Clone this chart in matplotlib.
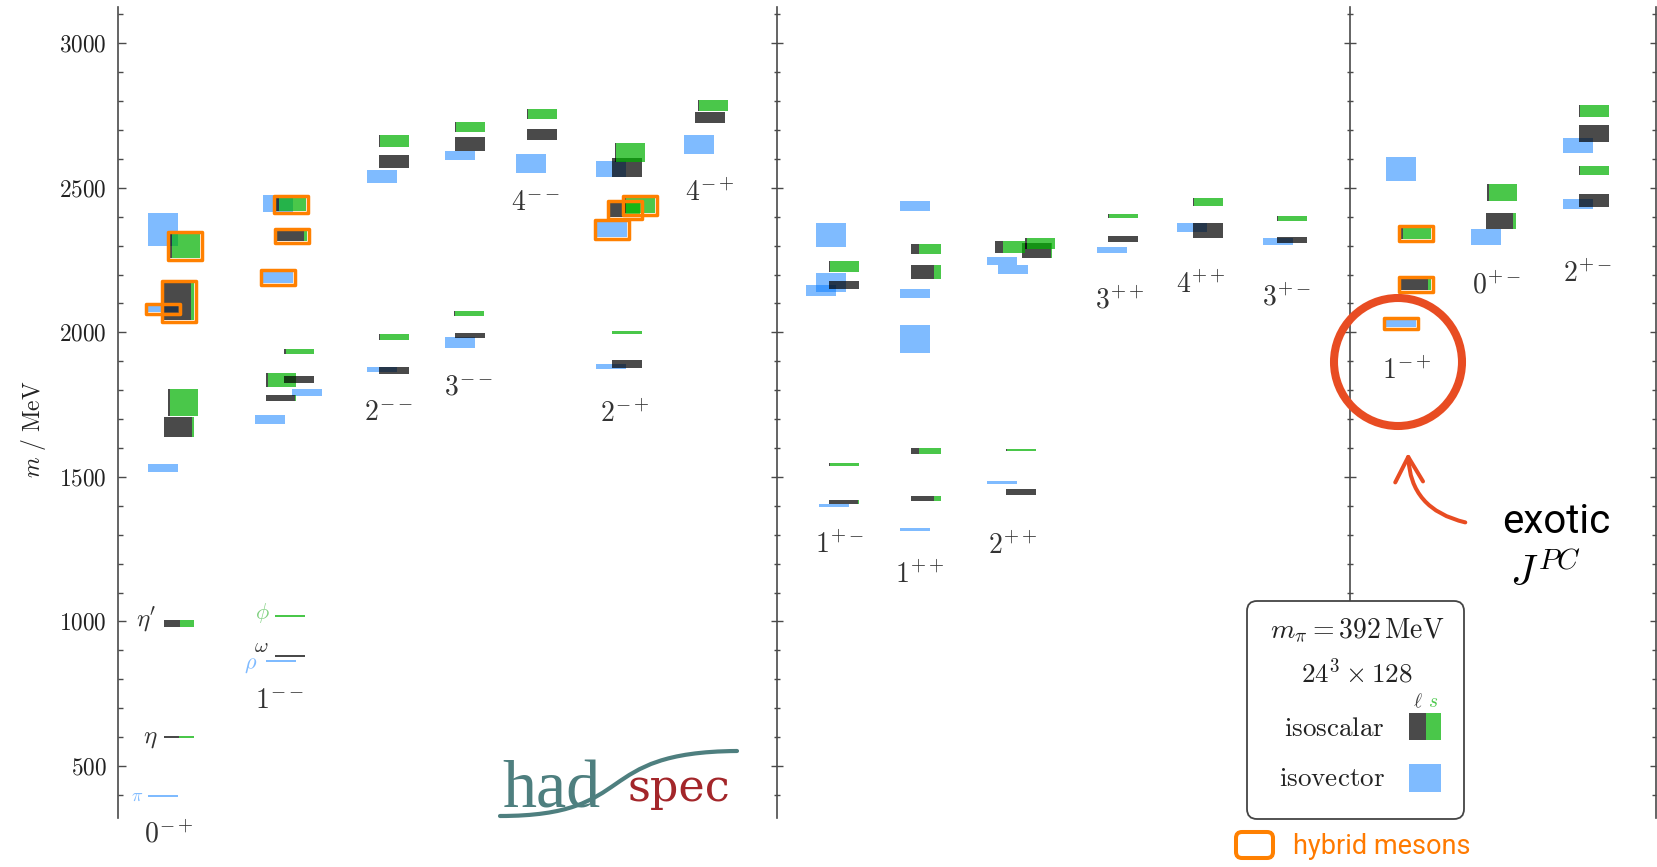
import matplotlib
matplotlib.use("Agg")
import matplotlib.pyplot as plt
import matplotlib.transforms as mtransforms
from matplotlib.patches import Rectangle, FancyBboxPatch, Circle, FancyArrowPatch, PathPatch
from matplotlib.path import Path
from matplotlib.ticker import MultipleLocator, FuncFormatter

plt.rcParams['mathtext.fontset'] = 'cm'
plt.rcParams['font.family'] = ['DejaVu Serif']

# -----------------------------
# Spectrum (MeV), m_pi = 392 MeV
# -----------------------------
jpc = ['0^{-+}', '1^{--}', '2^{--}', '3^{--}', '4^{--}', '2^{-+}', '4^{-+}',
       '1^{+-}', '1^{++}', '2^{++}', '3^{++}', '4^{++}', '3^{+-}',
       '1^{-+}', '0^{+-}', '2^{+-}']

# isovector states: mass, half-width of the band, hybrid flag
iv_mass = [395, 1531, 2082, 2355,            # 0-+
           864, 1698, 1792, 2191, 2445,      # 1--
           1871, 2538,                       # 2--
           1965, 2611,                       # 3--
           2584,                             # 4--
           1881, 2357, 2565,                 # 2-+
           2649,                             # 4-+
           1401, 2145, 2172, 2336,           # 1+-
           1318, 1976, 2134, 2436,           # 1++
           1481, 2218, 2246,                 # 2++
           2285,                             # 3++
           2362,                             # 4++
           2314,                             # 3+-
           2032, 2564,                       # 1-+
           2330,                             # 0+-
           2443, 2646]                       # 2+-
iv_err = [3, 14, 12, 57,
          3, 16, 12, 21, 29,
          8, 22,
          19, 16,
          33,
          8, 28, 28,
          33,
          5, 19, 33, 41,
          5, 48, 16, 17,
          5, 15, 14,
          10,
          15,
          12,
          14, 41,
          28,
          17, 26]
iv_hybrid = [0, 0, 1, 0,
             0, 0, 0, 1, 0,
             0, 0,
             0, 0,
             0,
             0, 1, 0,
             0,
             0, 0, 0, 0,
             0, 0, 0, 0,
             0, 0, 0,
             0,
             0,
             0,
             1, 0,
             0,
             0, 0]

# isoscalar states: mass, half-width, light-quark (l) fraction, hybrid flag
is_mass = [600, 993, 1672, 1757, 2108, 2300,            # 0-+
           881, 1019, 1772, 1835, 1837, 1933, 2335, 2443,  # 1--
           1868, 1984, 2591, 2662,                      # 2--
           1989, 2065, 2651, 2710,                      # 3--
           2685, 2755,                                  # 4--
           1890, 1999, 2424, 2440, 2570, 2622,          # 2-+
           2742, 2784,                                  # 4-+
           1413, 1543, 2164, 2227,                      # 1+-
           1425, 1590, 2208, 2288,                      # 1++
           1448, 1593, 2283, 2295, 2307,                # 2++
           2322, 2403,                                  # 3++
           2352, 2450,                                  # 4++
           2319, 2394,                                  # 3+-
           2167, 2343,                                  # 1-+
           2385, 2483,                                  # 0+-
           2455, 2560, 2688, 2766]                      # 2+-
is_err = [3, 12, 35, 46, 66, 43,
          3, 3, 10, 24, 12, 8, 19, 24,
          12, 10, 22, 21,
          9, 9, 24, 17,
          20, 17,
          13, 5, 26, 28, 33, 33,
          19, 19,
          7, 4, 14, 19,
          9, 10, 24, 17,
          10, 3, 26, 21, 19,
          10, 8,
          26, 14,
          10, 8,
          21, 21,
          28, 29,
          22, 16, 29, 22]
is_light = [0.5, 0.52, 0.93, 0.06, 0.9, 0.08,
            1.0, 0.0, 0.95, 0.05, 0.97, 0.05, 0.88, 0.1,
            0.97, 0.03, 0.97, 0.03,
            0.97, 0.03, 0.97, 0.03,
            0.97, 0.03,
            0.97, 0.0, 0.45, 0.03, 0.97, 0.03,
            0.97, 0.03,
            0.95, 0.03, 0.97, 0.03,
            0.75, 0.25, 0.75, 0.25,
            0.97, 0.03, 0.95, 0.25, 0.05,
            0.97, 0.03,
            0.97, 0.03,
            0.97, 0.03,
            0.9, 0.08,
            0.88, 0.05,
            0.97, 0.03, 0.97, 0.03]
is_hybrid = [0, 0, 0, 0, 1, 1,
             0, 0, 0, 0, 0, 0, 1, 1,
             0, 0, 0, 0,
             0, 0, 0, 0,
             0, 0,
             0, 0, 1, 1, 0, 0,
             0, 0,
             0, 0, 0, 0,
             0, 0, 0, 0,
             0, 0, 0, 0, 0,
             0, 0,
             0, 0,
             0, 0,
             1, 1,
             0, 0,
             0, 0, 0, 0]

# -----------------------------
# Layout (horizontal placement in pixels of the canvas)
# -----------------------------
W, H = 1658, 867
iv_left = [148, 148, 148, 148,
           266, 255, 292, 263, 263,
           367, 367,
           445, 445,
           516,
           596, 597, 596,
           684,
           819, 806, 816, 816,
           900, 900, 900, 900,
           987, 998, 987,
           1097,
           1177,
           1263,
           1386, 1386,
           1471,
           1563, 1563]
is_left = [164, 164, 164, 168, 164, 170,
           275, 275, 266, 266, 284, 284, 277, 276,
           379, 379, 379, 379,
           455, 454, 455, 455,
           527, 527,
           612, 612, 610, 625, 612, 615,
           695, 698,
           829, 829, 829, 829,
           911, 911, 911, 911,
           1006, 1006, 1022, 995, 1025,
           1108, 1108,
           1193, 1193,
           1277, 1277,
           1401, 1401,
           1486, 1487,
           1579, 1579, 1579, 1579]
label_xy = [(169, 835), (280, 700), (389, 412), (469, 387), (536, 203),
            (625, 414), (710, 193), (840, 545), (920, 575), (1013, 546),
            (1120, 301), (1201, 285), (1287, 298), (1407, 371), (1497, 286),
            (1588, 274)]
bw = 30.5

c_iv = (0.0, 0.47, 1.0)
c_l = (0.0, 0.0, 0.0)
c_s = (0.0, 0.69, 0.0)
a_iv, a_is = 0.5, 0.71
c_hyb = '#FF8000'
axc = '#4a4a4a'

fig = plt.figure(figsize=(W / 100, H / 100), dpi=100)
# canvas pixels, origin top-left
pix = mtransforms.Affine2D().scale(1 / 100, -1 / 100).translate(0, H / 100) + fig.dpi_scale_trans

x0p, x1p, y0p, y1p = 118, 1656, 7, 818
ax = fig.add_axes([x0p / W, 1 - y1p / H, (x1p - x0p) / W, (y1p - y0p) / H])
ax.set_xlim(x0p, x1p)
ax.set_ylim(320, 3125.6)
ppm = (y1p - y0p) / (3125.6 - 320)   # pixels per MeV

for s in ['top', 'right', 'bottom']:
    ax.spines[s].set_visible(False)
ax.spines['left'].set_color(axc)
ax.spines['left'].set_linewidth(1.2)
ax.set_xticks([])
ax.yaxis.set_major_locator(MultipleLocator(500))
ax.yaxis.set_minor_locator(MultipleLocator(100))
ax.yaxis.set_major_formatter(FuncFormatter(lambda v, p: r'$%d$' % v))
ax.tick_params(axis='y', which='both', direction='in', color=axc, width=1.0,
               labelsize=16.8, labelcolor='#222222', pad=8)
ax.tick_params(axis='y', which='major', length=5.8)
ax.tick_params(axis='y', which='minor', length=3.6)

# panel dividers with their own ticks
for xp, d in [(777, 'inout'), (1350, 'inout'), (1656, 'in')]:
    sec = ax.secondary_yaxis((xp - x0p) / (x1p - x0p))
    sec.yaxis.set_major_locator(MultipleLocator(500))
    sec.yaxis.set_minor_locator(MultipleLocator(100))
    sec.tick_params(which='both', direction=d, color=axc, width=1.0,
                    labelleft=False, labelright=False)
    sec.tick_params(which='major', length=8.6 if d == 'inout' else 4.5)
    sec.tick_params(which='minor', length=5.0 if d == 'inout' else 3.0)
    for sp in sec.spines.values():
        sp.set_color(axc)
        sp.set_linewidth(1.2)

# isovector bands
for m, e, x in zip(iv_mass, iv_err, iv_left):
    ax.add_patch(Rectangle((x, m - e), bw, 2 * e, fc=c_iv, alpha=a_iv, lw=0, zorder=2))

# isoscalar bands split into light / strange content
for m, e, f, x in zip(is_mass, is_err, is_light, is_left):
    if f > 0:
        ax.add_patch(Rectangle((x, m - e), f * bw, 2 * e, fc=c_l, alpha=a_is, lw=0, zorder=3))
    if f < 1:
        ax.add_patch(Rectangle((x + f * bw, m - e), (1 - f) * bw, 2 * e, fc=c_s,
                               alpha=a_is, lw=0, zorder=3))

# hybrid outlines
padx, pady = 1.5, 1.5 / ppm
for mass, err, hyb, left in [(iv_mass, iv_err, iv_hybrid, iv_left),
                             (is_mass, is_err, is_hybrid, is_left)]:
    for m, e, h, x in zip(mass, err, hyb, left):
        if h:
            ax.add_patch(Rectangle((x - padx, m - e - pady), bw + 2 * padx, 2 * e + 2 * pady,
                                   fill=False, ec=c_hyb, lw=2.5, joinstyle='round', zorder=5))

# J^PC labels
for lab, (x, y) in zip(jpc, label_xy):
    fig.text(x, y, '$' + lab + '$', transform=pix, ha='center', va='center',
             fontsize=20, color='#333333')

# ground-state names
fig.text(137, 796, r'$\pi$', transform=pix, ha='center', va='center', fontsize=13, color='#80BBFF')
fig.text(146, 620, r"$\eta'$", transform=pix, ha='center', va='center', fontsize=18, color='#333333')
fig.text(150, 738, r'$\eta$', transform=pix, ha='center', va='center', fontsize=18, color='#333333')
fig.text(262, 613, r'$\phi$', transform=pix, ha='center', va='center', fontsize=16, color='#80D080')
fig.text(261, 646, r'$\omega$', transform=pix, ha='center', va='center', fontsize=15, color='#333333')
fig.text(251, 664, r'$\rho$', transform=pix, ha='center', va='center', fontsize=16, color='#80BBFF')

fig.text(33, 429, r'$m\ /\ \mathrm{MeV}$', transform=pix, rotation=90, ha='center',
         va='center', fontsize=17, color='#222222')

# info box
fig.add_artist(FancyBboxPatch((1247, 601), 217, 218, boxstyle='round,pad=0,rounding_size=10',
                              transform=pix, fc='white', ec='#444444', lw=1.3, zorder=6))
fig.text(1357, 630, r'$m_\pi = 392\,\mathrm{MeV}$', transform=pix, ha='center', va='center',
         fontsize=20, color='#222222', zorder=7)
fig.text(1357, 673, r'$24^3 \times 128$', transform=pix, ha='center', va='center',
         fontsize=19.5, color='#222222', zorder=7)
fig.text(1385, 729, r'$\mathrm{isoscalar}$', transform=pix, ha='right', va='center',
         fontsize=19.5, color='#222222', zorder=7)
fig.text(1385, 778, r'$\mathrm{isovector}$', transform=pix, ha='right', va='center',
         fontsize=19.5, color='#222222', zorder=7)
fig.text(1418, 702, r'$\ell$', transform=pix, ha='center', va='center', fontsize=14,
         color='#444444', zorder=7)
fig.text(1433, 702, r'$s$', transform=pix, ha='center', va='center', fontsize=14,
         color='#4CC94C', zorder=7)
fig.add_artist(Rectangle((1409, 713), 17, 27, transform=pix, fc=c_l, alpha=a_is, lw=0, zorder=7))
fig.add_artist(Rectangle((1426, 713), 15, 27, transform=pix, fc=c_s, alpha=a_is, lw=0, zorder=7))
fig.add_artist(Rectangle((1409, 764), 32, 28, transform=pix, fc=c_iv, alpha=a_iv, lw=0, zorder=7))

# hybrid key
fig.add_artist(FancyBboxPatch((1236, 832), 37, 26, boxstyle='round,pad=0,rounding_size=6',
                              transform=pix, fill=False, ec=c_hyb, lw=2.9, zorder=7))
fig.text(1293, 846, 'hybrid mesons', transform=pix, ha='left', va='center',
         fontsize=19.5, color='#FF7A00', family='Roboto')

# exotic annotation
c_ann = '#E84C22'
fig.add_artist(Circle((1398, 362), 64, transform=pix, fill=False, ec=c_ann, lw=5.8, zorder=8))
fig.add_artist(FancyArrowPatch((1468, 523), (1408, 450), transform=pix,
                               connectionstyle='arc3,rad=-0.4',
                               arrowstyle='->,head_length=18,head_width=10',
                               mutation_scale=1, color=c_ann, lw=2.9, zorder=8))
fig.text(1502, 533, 'exotic', transform=pix, ha='left', va='baseline', fontsize=29,
         color='black', family='Roboto')
fig.text(1546, 574, r'$J^{PC}$', transform=pix, ha='center', va='center', fontsize=30,
         color='black')

# hadspec logo
teal = '#4E7F7F'
logo = Path([(500, 816), (640, 816), (590, 752), (737, 751)],
            [Path.MOVETO, Path.CURVE4, Path.CURVE4, Path.CURVE4])
fig.add_artist(PathPatch(logo, transform=pix, fill=False, ec=teal, lw=3.0, capstyle='round'))
fig.text(502, 807, 'had', transform=pix, ha='left', va='baseline', fontsize=49,
         color=teal, family='Liberation Serif')
fig.text(628, 801, 'spec', transform=pix, ha='left', va='baseline', fontsize=32,
         color='#A3262A', family='DejaVu Serif')

fig.savefig('out.png', dpi=100)
plt.close(fig)
